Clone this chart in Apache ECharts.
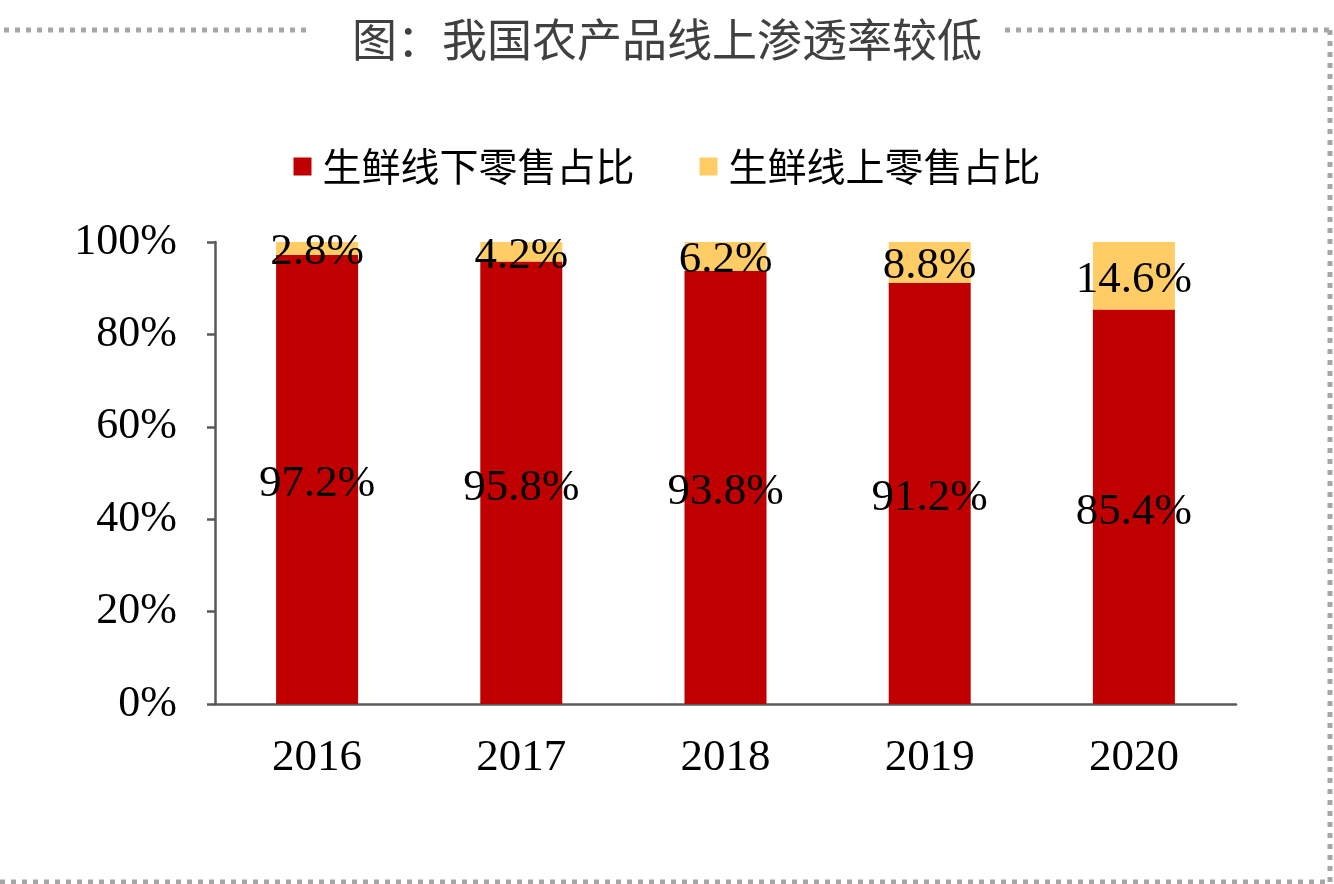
<!DOCTYPE html>
<html>
<head>
<meta charset="utf-8">
<script src="https://cdn.jsdelivr.net/npm/echarts@6/dist/echarts.min.js"></script>
<style>
  html, body { margin: 0; padding: 0; background: #fff; }
  #main { width: 1334px; height: 884px; }
</style>
</head>
<body>
<div id="main"></div>
<script>
// 数据
var years = ['2016', '2017', '2018', '2019', '2020'];
var offline = [97.2, 95.8, 93.8, 91.2, 85.4];
var online = [2.8, 4.2, 6.2, 8.8, 14.6];
var yTicks = [0, 20, 40, 60, 80, 100];

var chart = echarts.init(document.getElementById('main'));

var serif = '"Liberation Serif", "Times New Roman", serif';
var border = { stroke: '#a6a6a6', lineWidth: 5, lineDash: [5, 6] };

var option = {
  animation: false,
  backgroundColor: '#fff',
  title: {
    text: '图：我国农产品线上渗透率较低',
    left: 'center',
    top: 12,
    textStyle: { fontFamily: '"Noto Sans CJK SC"', fontSize: 45, fontWeight: 'normal', color: '#404040' }
  },
  legend: {
    top: 142,
    left: 'center',
    itemWidth: 18,
    itemHeight: 18,
    itemGap: 65,
    icon: 'rect',
    textStyle: { fontFamily: '"Noto Sans CJK SC"', fontSize: 39, color: '#000', padding: [0, 0, 0, 6] },
    data: ['生鲜线下零售占比', '生鲜线上零售占比']
  },
  grid: { left: 215, right: 98, top: 242, bottom: 180 },
  xAxis: {
    type: 'category',
    data: years,
    axisLine: { lineStyle: { color: '#595959', width: 2.5 } },
    axisTick: { length: 12, lineStyle: { color: '#595959', width: 2.5 } },
    axisLabel: { fontFamily: serif, fontSize: 45, color: '#000', margin: 32 }
  },
  yAxis: {
    type: 'value',
    min: 0,
    max: 100,
    interval: 20,
    axisLine: { show: true, lineStyle: { color: '#595959', width: 2.5 } },
    axisTick: { show: true, length: 8, lineStyle: { color: '#595959', width: 2.5 } },
    splitLine: { show: false },
    axisLabel: {
      fontFamily: serif, fontSize: 44, color: '#000', margin: 38,
      formatter: function (v) { return yTicks.indexOf(v) >= 0 ? v + '%' : ''; }
    }
  },
  series: [
    {
      name: '生鲜线下零售占比',
      type: 'bar',
      stack: 'total',
      barWidth: 82,
      data: offline,
      itemStyle: { color: '#c00000' },
      label: {
        show: true, position: 'inside', color: '#000', offset: [0, 5],
        fontFamily: serif, fontSize: 45,
        formatter: function (p) { return p.value.toFixed(1) + '%'; }
      }
    },
    {
      name: '生鲜线上零售占比',
      type: 'bar',
      stack: 'total',
      barWidth: 82,
      data: online,
      itemStyle: { color: '#ffcc66' },
      label: {
        show: true, position: 'inside', color: '#000', offset: [0, 4],
        fontFamily: serif, fontSize: 45,
        formatter: function (p) { return p.value.toFixed(1) + '%'; }
      }
    }
  ],
  graphic: [
    { type: 'line', shape: { x1: 4, y1: 30, x2: 312, y2: 30 }, style: border },
    { type: 'line', shape: { x1: 1005, y1: 30, x2: 1330, y2: 30 }, style: border },
    { type: 'line', shape: { x1: 1330, y1: 30, x2: 1330, y2: 882 }, style: border },
    { type: 'line', shape: { x1: 0, y1: 882, x2: 1330, y2: 882 }, style: border }
  ]
};

chart.setOption(option);
</script>
</body>
</html>
